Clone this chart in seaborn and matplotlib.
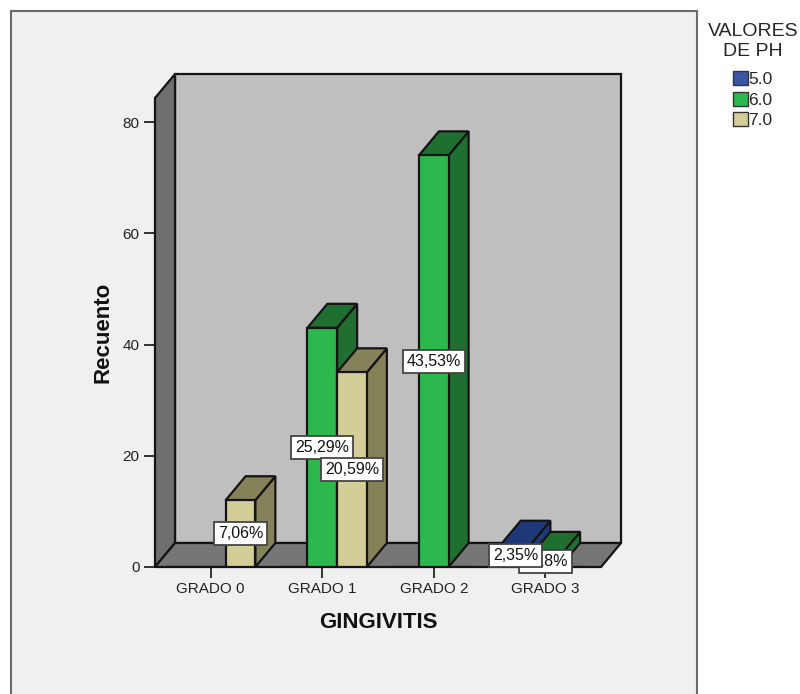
"""Gingivitis grade by pH value, SPSS style 3D bars."""
import matplotlib.pyplot as plt
import pandas as pd
import seaborn as sns
from matplotlib.patches import Polygon, Rectangle

grades = ["GRADO 0", "GRADO 1", "GRADO 2", "GRADO 3"]
ph_values = ["5.0", "6.0", "7.0"]
counts_ph5 = [0, 0, 0, 4]
counts_ph6 = [0, 43, 74, 2]
counts_ph7 = [12, 35, 0, 0]
pct_ph5 = ["", "", "", "2,35%"]
pct_ph6 = ["", "25,29%", "43,53%", "1,18%"]
pct_ph7 = ["7,06%", "20,59%", "", ""]
y_ticks = [0, 20, 40, 60, 80]

front_colors = {"5.0": "#3a55a4", "6.0": "#2db84d", "7.0": "#d3ce97"}
dark_colors = {"5.0": "#1f3878", "6.0": "#1f7030", "7.0": "#85825a"}
EDGE = "#141414"

W, H = 800, 694
AX_LEFT, AX_RIGHT, AX_BOTTOM, AX_TOP = 155, 601, 567, 98
Y_MAX = (AX_BOTTOM - AX_TOP) / 5.5625
# depth of the fake 3D box, in data units
DX = 20 / ((AX_RIGHT - AX_LEFT) / 4)
DY = 24 / 5.5625

sns.set_theme(style="ticks")
plt.rcParams["font.family"] = ["Liberation Sans", "DejaVu Sans"]

frame = pd.DataFrame({
    "grade": grades * 3,
    "ph": [p for p in ph_values for _ in grades],
    "count": counts_ph5 + counts_ph6 + counts_ph7,
})

fig = plt.figure(figsize=(W / 100, H / 100), dpi=100, facecolor="white")
fig.add_artist(Rectangle((11 / W, -0.02), 686 / W, 1 - 11 / H + 0.02, transform=fig.transFigure,
                         facecolor="#f0f0f0", edgecolor="#6a6a6a", linewidth=1.5, zorder=-1))
ax = fig.add_axes([AX_LEFT / W, 1 - AX_BOTTOM / H, (AX_RIGHT - AX_LEFT) / W, (AX_BOTTOM - AX_TOP) / H])
ax.patch.set_alpha(0)

sns.barplot(data=frame, x="grade", y="count", hue="ph", order=grades, hue_order=ph_values,
            palette=front_colors, width=0.8, gap=0, edgecolor=EDGE, linewidth=1.6, saturation=1, ax=ax)
ax.set_xlim(-0.5, 3.5)
ax.set_ylim(0, Y_MAX)


def add_face(points, color, zorder):
    ax.add_patch(Polygon(points, closed=True, facecolor=color, edgecolor=EDGE, linewidth=1.6,
                         zorder=zorder, clip_on=False))


# walls and floor
add_face([(-0.5 + DX, DY), (3.5 + DX, DY), (3.5 + DX, Y_MAX + DY), (-0.5 + DX, Y_MAX + DY)], "#bfbfbf", 0.5)
add_face([(-0.5, 0), (-0.5 + DX, DY), (-0.5 + DX, Y_MAX + DY), (-0.5, Y_MAX)], "#6f6f6f", 0.6)
add_face([(-0.5, 0), (3.5, 0), (3.5 + DX, DY), (-0.5 + DX, DY)], "#767676", 0.6)

# bars go left to right so nearer faces cover the previous ones
bars = []
for ph, container in zip(ph_values, ax.containers):
    bars.extend((patch, ph) for patch in container if patch.get_height() > 0)
bars.sort(key=lambda item: item[0].get_x())
for i, (patch, ph) in enumerate(bars):
    z = 2 + i
    x0, x1, top = patch.get_x(), patch.get_x() + patch.get_width(), patch.get_height()
    patch.set_zorder(z + 0.2)
    add_face([(x1, 0), (x1 + DX, DY), (x1 + DX, top + DY), (x1, top)], dark_colors[ph], z)
    add_face([(x0, top), (x1, top), (x1 + DX, top + DY), (x0 + DX, top + DY)], dark_colors[ph], z)

# labels, later series sit on top of earlier ones
label_sets = {"6.0": (1, pct_ph6), "7.0": (2, pct_ph7), "5.0": (0, pct_ph5)}
z_label = 20
for ph, (idx, texts) in label_sets.items():
    for patch, text in zip(ax.containers[idx], texts):
        if text:
            ax.text(patch.get_x() + patch.get_width() / 2, patch.get_height() / 2, text,
                    ha="center", va="center", fontsize=11.5, color="#111111", zorder=z_label,
                    clip_on=False,
                    bbox=dict(boxstyle="square,pad=0.25", facecolor="white", edgecolor="#444444", linewidth=1.3))
            z_label += 1

ax.set_yticks(y_ticks)
ax.tick_params(axis="both", length=8, width=1.3, color="#222222", labelsize=11, labelcolor="#222222", pad=3)
ax.set_xlabel("GINGIVITIS", fontsize=16, fontweight="bold", color="#111111", labelpad=11)
ax.set_ylabel("Recuento", fontsize=16, fontweight="bold", color="#111111", labelpad=7)
sns.despine(ax=ax, top=True, right=True)
for side in ("left", "bottom"):
    ax.spines[side].set_visible(False)

sns.move_legend(ax, "upper left", bbox_to_anchor=(704 / W, 1 - 20 / H), bbox_transform=fig.transFigure,
                title="VALORES\nDE PH", frameon=False, fontsize=12.5, title_fontsize=14,
                handlelength=0.86, handleheight=0.86, handletextpad=0.05, labelspacing=0.26,
                borderaxespad=0, borderpad=0.2)
legend = ax.get_legend()
legend.get_title().set_multialignment("center")
legend.set_zorder(30)
legend._legend_box.sep = 8
for handle in legend.get_patches():
    handle.set_linewidth(1)
    handle.set_edgecolor("#333333")

fig.savefig("out.png", dpi=100)
